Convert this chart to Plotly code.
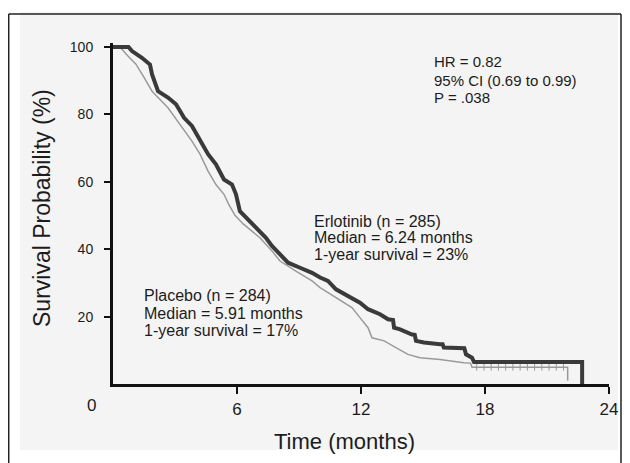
import plotly.graph_objects as go

# ---- data ----
erlotinib_months = [0, 0.75, 0.92, 1.40, 1.79, 1.89, 2.18, 2.66, 3.05, 3.44, 3.82, 4.21, 4.60, 4.98,
                    5.37, 5.76, 5.95, 6.14, 6.44, 6.73, 7.11, 7.40, 7.69, 8.08, 8.47, 9.05, 9.63,
                    10.02, 10.40, 10.79, 11.37, 11.95, 12.34, 12.92, 13.31, 13.55, 13.60, 13.89, 14.47,
                    14.60, 14.66, 15.05, 15.82, 15.95, 16.01, 16.79, 17.0, 17.08, 17.30, 17.37, 17.47,
                    22.7, 22.7]
erlotinib_surv = [100, 100, 98.8, 96.8, 94.8, 91.9, 86.9, 85.0, 83.0, 79.0, 76.6, 72.1, 68.2, 65.2,
                  60.7, 59.2, 56.3, 51.3, 49.4, 47.4, 45.4, 43.4, 41.0, 38.5, 36.0, 34.5, 33.0,
                  31.6, 30.6, 28.1, 26.1, 24.1, 22.2, 20.7, 19.2, 19.0, 16.7, 16.2, 14.7,
                  14.6, 12.8, 12.3, 11.8, 11.8, 10.8, 10.8, 10.6, 8.8, 8.0, 7.8, 6.5,
                  6.5, 0]

placebo_months = [0, 0.34, 0.7, 1.11, 1.5, 1.89, 2.66, 3.24, 3.82, 4.21, 4.60, 4.98, 5.37, 5.6,
                  5.91, 6.3, 6.6, 7.11, 7.69, 8.08, 8.85, 9.63, 10.02, 10.79, 11.56, 11.95, 12.34,
                  12.53, 13.12, 13.69, 14.27, 14.85, 15.82, 16.98, 17.30, 17.37, 22.0, 22.0]
placebo_surv = [100, 100, 97.5, 94.9, 91.0, 86.9, 82.0, 77.1, 72.1, 68.2, 63.2, 59.2, 56.3, 53.3,
                50.0, 47.5, 46.0, 43.4, 39.5, 36.5, 33.5, 30.6, 28.6, 25.6, 22.7, 19.7, 16.7,
                13.7, 12.8, 10.8, 8.8, 7.8, 7.3, 6.3, 6.2, 5.0, 5.0, 1.0]

placebo_censor_months = [17.6, 17.95, 18.3, 18.65, 19.0, 19.35, 19.7, 20.05, 20.4, 20.75, 21.1, 21.45, 21.8]
placebo_censor_surv = [5.0] * len(placebo_censor_months)

x_tick_vals = [6, 12, 18, 24]
x_tick_text = ["6", "12", "18", "24"]
y_tick_vals = [20, 40, 60, 80, 100]
y_tick_text = ["20", "40", "60", "80", "100"]

hr_lines = ["HR = 0.82", "95% CI (0.69 to 0.99)", "P = .038"]
erl_lines = ["Erlotinib (n = 285)", "Median = 6.24 months", "1-year survival = 23%"]
pla_lines = ["Placebo (n = 284)", "Median = 5.91 months", "1-year survival = 17%"]

# ---- layout geometry (window pixels; page body has an 8px margin) ----
OFF = 8
W, H = 630 - OFF, 463 - OFF
L, R = 113 - OFF, 609 - OFF   # x = 0 .. 24
B, T = 384 - OFF, 43 - OFF    # y = 0 .. 101.2

def px2x(px):
    return (px - OFF - L) / (R - L)

def px2y(py):
    return (B - (py - OFF)) / (B - T)

FONT = "Liberation Sans, Arial, sans-serif"
TXT = "#1c1c1c"

fig = go.Figure()
fig.add_trace(go.Scatter(x=placebo_months, y=placebo_surv, mode="lines",
                         line=dict(color="#9a9a9a", width=1.5), showlegend=False))
fig.add_trace(go.Scatter(x=placebo_censor_months, y=placebo_censor_surv, mode="markers",
                         marker=dict(symbol="line-ns-open", size=5, color="#9a9a9a",
                                     line=dict(width=1, color="#9a9a9a")), showlegend=False))
fig.add_trace(go.Scatter(x=erlotinib_months, y=erlotinib_surv, mode="lines",
                         line=dict(color="#3a3a3a", width=4), showlegend=False))

shapes = [
    dict(type="rect", xref="paper", yref="paper", x0=px2x(20), x1=px2x(618), y0=px2y(450), y1=px2y(12),
         fillcolor="#f4f4f4", line=dict(width=0), layer="below"),
    dict(type="line", xref="paper", yref="paper", x0=px2x(8.7), x1=px2x(8.7), y0=px2y(470), y1=px2y(14),
         line=dict(color="#222", width=1.5)),
    dict(type="line", xref="paper", yref="paper", x0=px2x(8.7), x1=px2x(621), y0=px2y(14), y1=px2y(14),
         line=dict(color="#222", width=1.5)),
    dict(type="line", xref="paper", yref="paper", x0=px2x(621), x1=px2x(621), y0=px2y(470), y1=px2y(14),
         line=dict(color="#222", width=1.5)),
]

annotations = []
def add_lines(lines, left_px, centers_px, size):
    for s, cy in zip(lines, centers_px):
        annotations.append(dict(text=s, xref="paper", yref="paper", x=px2x(left_px), y=px2y(cy),
                                xanchor="left", yanchor="middle", showarrow=False,
                                font=dict(family=FONT, size=size, color=TXT)))

add_lines(hr_lines, 432, [62, 80, 98], 15)
add_lines(erl_lines, 312, [221, 238, 254], 16)
add_lines(pla_lines, 142, [295, 313, 330], 16)

annotations.append(dict(text="0", xref="paper", yref="paper", x=px2x(91), y=px2y(405),
                        xanchor="center", yanchor="middle", showarrow=False,
                        font=dict(family=FONT, size=17, color=TXT)))
annotations.append(dict(text="Time (months)", xref="paper", yref="paper", x=px2x(344), y=px2y(441),
                        xanchor="center", yanchor="middle", showarrow=False,
                        font=dict(family=FONT, size=22, color=TXT)))
annotations.append(dict(text="Survival Probability (%)", xref="paper", yref="paper", x=px2x(42),
                        y=px2y(208), xanchor="center", yanchor="middle", showarrow=False, textangle=-90,
                        font=dict(family=FONT, size=23, color=TXT)))

fig.update_layout(
    width=W, height=H,
    margin=dict(l=L, r=W - R, t=T, b=H - B, pad=0),
    paper_bgcolor="white", plot_bgcolor="#f4f4f4",
    shapes=shapes, annotations=annotations,
    xaxis=dict(range=[0, 24], showgrid=False, zeroline=False, showline=True, linecolor="#111",
               linewidth=3, ticks="outside", ticklen=7, tickwidth=1.5, tickcolor="#111",
               tickvals=x_tick_vals, ticktext=x_tick_text, ticklabelstandoff=1,
               tickfont=dict(family=FONT, size=17, color=TXT)),
    yaxis=dict(range=[0, 101.2], showgrid=False, zeroline=False, showline=True, linecolor="#111",
               linewidth=3, ticks="outside", ticklen=6, tickwidth=1.5, tickcolor="#111",
               tickvals=y_tick_vals, ticktext=y_tick_text, ticklabelstandoff=8,
               tickfont=dict(family=FONT, size=14, color=TXT)),
)

fig.write_html("out.html")
